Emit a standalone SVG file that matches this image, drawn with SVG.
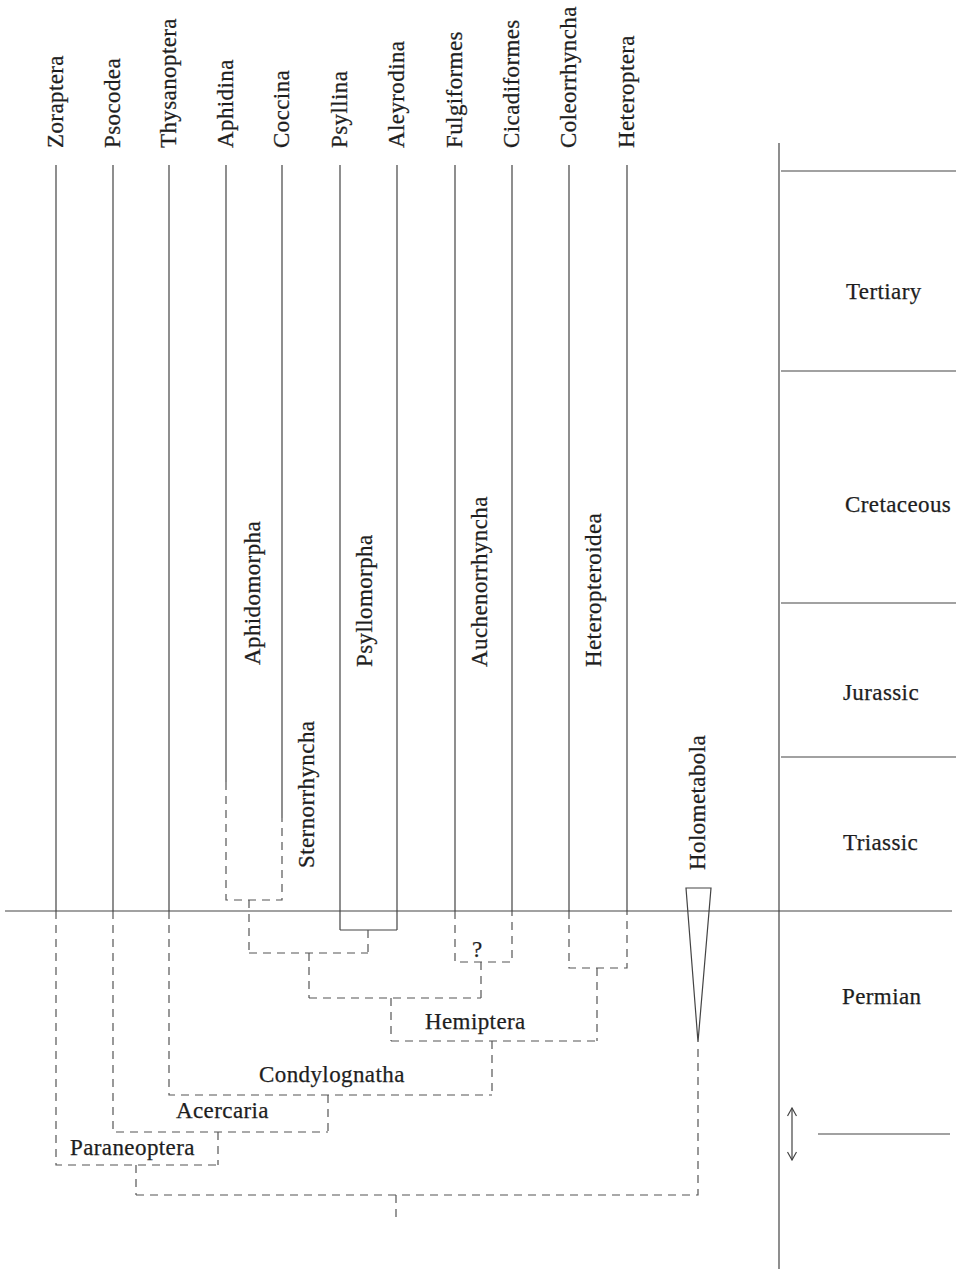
<svg xmlns="http://www.w3.org/2000/svg" width="958" height="1269" viewBox="0 0 958 1269">
<defs>
<style>
.t{font-family:"Liberation Serif","Times New Roman",serif;font-size:23px;fill:#1e1e1e;letter-spacing:0.4px;stroke:#1e1e1e;stroke-width:0.25px}
.s{stroke:#444;stroke-width:1.2;fill:none}
.d{stroke:#555;stroke-width:1.2;fill:none;stroke-dasharray:8 6}
</style>
<marker id="ah" viewBox="0 0 10 10" refX="9" refY="5" markerWidth="10" markerHeight="10" orient="auto-start-reverse" markerUnits="userSpaceOnUse">
<path d="M1,0.5 L9,5 L1,9.5" fill="none" stroke="#444" stroke-width="1.2"/>
</marker>
</defs>
<rect width="958" height="1269" fill="#fff"/>

<g id="taxa">
<g id="Zoraptera"><line class="s" x1="56" y1="165" x2="56" y2="911"/><text class="t" transform="translate(63,148) rotate(-90)">Zoraptera</text></g>
<g id="Psocodea"><line class="s" x1="113" y1="165" x2="113" y2="911"/><text class="t" transform="translate(120,148) rotate(-90)">Psocodea</text></g>
<g id="Thysanoptera"><line class="s" x1="169" y1="165" x2="169" y2="911"/><text class="t" transform="translate(176,148) rotate(-90)">Thysanoptera</text></g>
<g id="Aphidina"><line class="s" x1="226" y1="165" x2="226" y2="782"/><text class="t" transform="translate(233,148) rotate(-90)">Aphidina</text></g>
<g id="Coccina"><line class="s" x1="282" y1="165" x2="282" y2="818"/><text class="t" transform="translate(289,148) rotate(-90)">Coccina</text></g>
<g id="Psyllina"><line class="s" x1="340" y1="165" x2="340" y2="930"/><text class="t" transform="translate(347,148) rotate(-90)">Psyllina</text></g>
<g id="Aleyrodina"><line class="s" x1="397" y1="165" x2="397" y2="930"/><text class="t" transform="translate(404,148) rotate(-90)">Aleyrodina</text></g>
<g id="Fulgiformes"><line class="s" x1="455" y1="165" x2="455" y2="911"/><text class="t" transform="translate(462,148) rotate(-90)">Fulgiformes</text></g>
<g id="Cicadiformes"><line class="s" x1="512" y1="165" x2="512" y2="911"/><text class="t" transform="translate(519,148) rotate(-90)">Cicadiformes</text></g>
<g id="Coleorrhyncha"><line class="s" x1="569" y1="165" x2="569" y2="911"/><text class="t" transform="translate(576,148) rotate(-90)">Coleorrhyncha</text></g>
<g id="Heteroptera"><line class="s" x1="627" y1="165" x2="627" y2="911"/><text class="t" transform="translate(634,148) rotate(-90)">Heteroptera</text></g>
</g>

<g id="group-labels">
<text class="t" transform="translate(260,665) rotate(-90)">Aphidomorpha</text>
<text class="t" transform="translate(314,868) rotate(-90)">Sternorrhyncha</text>
<text class="t" transform="translate(372,667) rotate(-90)">Psyllomorpha</text>
<text class="t" transform="translate(487,667) rotate(-90)">Auchenorrhyncha</text>
<text class="t" transform="translate(601,667) rotate(-90)">Heteropteroidea</text>
<text class="t" x="425" y="1029">Hemiptera</text>
<text class="t" x="259" y="1082">Condylognatha</text>
<text class="t" x="176" y="1118">Acercaria</text>
<text class="t" x="70" y="1155">Paraneoptera</text>
<text class="t" x="472" y="957">?</text>
</g>

<g id="Holometabola">
<polygon class="s" points="686,888 711,888 698,1042"/>
<text class="t" transform="translate(705,870) rotate(-90)">Holometabola</text>
</g>

<g id="connectors">
<path class="s" d="M340,930 H397"/>
<path class="d" d="M226,782 V900 H282 V818"/>
<path class="d" d="M249,900 V953"/>
<path class="d" d="M368,930 V953"/>
<path class="d" d="M249,953 H368"/>
<path class="d" d="M309,953 V998"/>
<path class="d" d="M455,911 V962 H512 V911"/>
<path class="d" d="M481,962 V998"/>
<path class="d" d="M309,998 H481"/>
<path class="d" d="M391,998 V1041"/>
<path class="d" d="M569,911 V968 H627 V911"/>
<path class="d" d="M597,968 V1041"/>
<path class="d" d="M391,1041 H597"/>
<path class="d" d="M492,1041 V1095"/>
<path class="d" d="M169,911 V1095 H492"/>
<path class="d" d="M328,1095 V1132"/>
<path class="d" d="M113,911 V1132 H328"/>
<path class="d" d="M218,1132 V1165"/>
<path class="d" d="M56,911 V1165 H218"/>
<path class="d" d="M136,1165 V1195"/>
<path class="d" d="M136,1195 H698 V1045"/>
<path class="d" d="M396,1195 V1222"/>
</g>

<g id="timescale">
<line class="s" x1="5" y1="911" x2="952" y2="911"/>
<line class="s" x1="779" y1="143" x2="779" y2="1269"/>
<line class="s" x1="781" y1="171" x2="956" y2="171"/>
<line class="s" x1="781" y1="371" x2="956" y2="371"/>
<line class="s" x1="781" y1="603" x2="956" y2="603"/>
<line class="s" x1="781" y1="757" x2="956" y2="757"/>
<line class="s" x1="818" y1="1134" x2="950" y2="1134"/>
<line class="s" x1="792" y1="1108" x2="792" y2="1160" marker-start="url(#ah)" marker-end="url(#ah)"/>
<text class="t" x="846" y="299">Tertiary</text>
<text class="t" x="845" y="512">Cretaceous</text>
<text class="t" x="843" y="700">Jurassic</text>
<text class="t" x="843" y="850">Triassic</text>
<text class="t" x="842" y="1004">Permian</text>
</g>
</svg>
